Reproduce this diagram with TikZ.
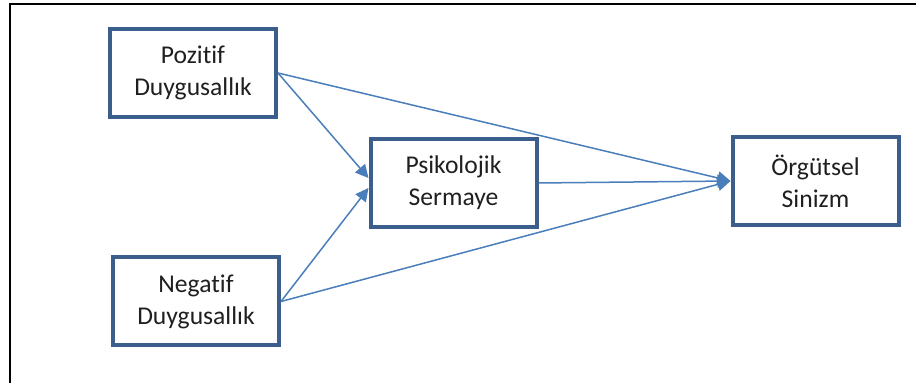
\documentclass[tikz,border=0pt]{standalone}
\usepackage{fontspec}
\setmainfont{Carlito}[Ligatures=NoCommon]
\usetikzlibrary{arrows.meta}
\definecolor{BoxBlue}{HTML}{3B5E8C}
\definecolor{LinkBlue}{HTML}{4A7EBB}

\begin{document}
\begin{tikzpicture}[
    x=0.5pt, y=-0.5pt,
    every node/.style={
        draw=BoxBlue,
        line width=2pt,
        minimum width=83pt,
        minimum height=44pt,
        align=center,
        inner sep=0pt,
        font=\fontsize{12.8}{16}\selectfont,
        text=black!88
    },
    link/.style={
        draw=LinkBlue,
        line width=0.75pt,
        -{Triangle[length=6.5pt,width=6.5pt]}
    }
]

\useasboundingbox (0,0) rectangle (916,383);
\draw[line width=1pt] (9,4.5) -- (916,4.5);
\draw[line width=1pt] (10,4) -- (10,383);

\node (poz) at (193,73) {Pozitif\\Duygusallık};
\node (neg) at (196,301.5) {Negatif\\Duygusallık};

\node (psi) at (453.5,183) {Psikolojik\\Sermaye};

\node (org) at (815.5,181) {Örgütsel\\Sinizm};

\draw[link] (poz.east) -- ([yshift=2.5pt]psi.west);
\draw[link] (neg.east) -- ([yshift=-2.5pt]psi.west);

\draw[link] (poz.east) -- (org.west);
\draw[link] (psi.east) -- (org.west);
\draw[link] (neg.east) -- (org.west);

\end{tikzpicture}
\end{document}
